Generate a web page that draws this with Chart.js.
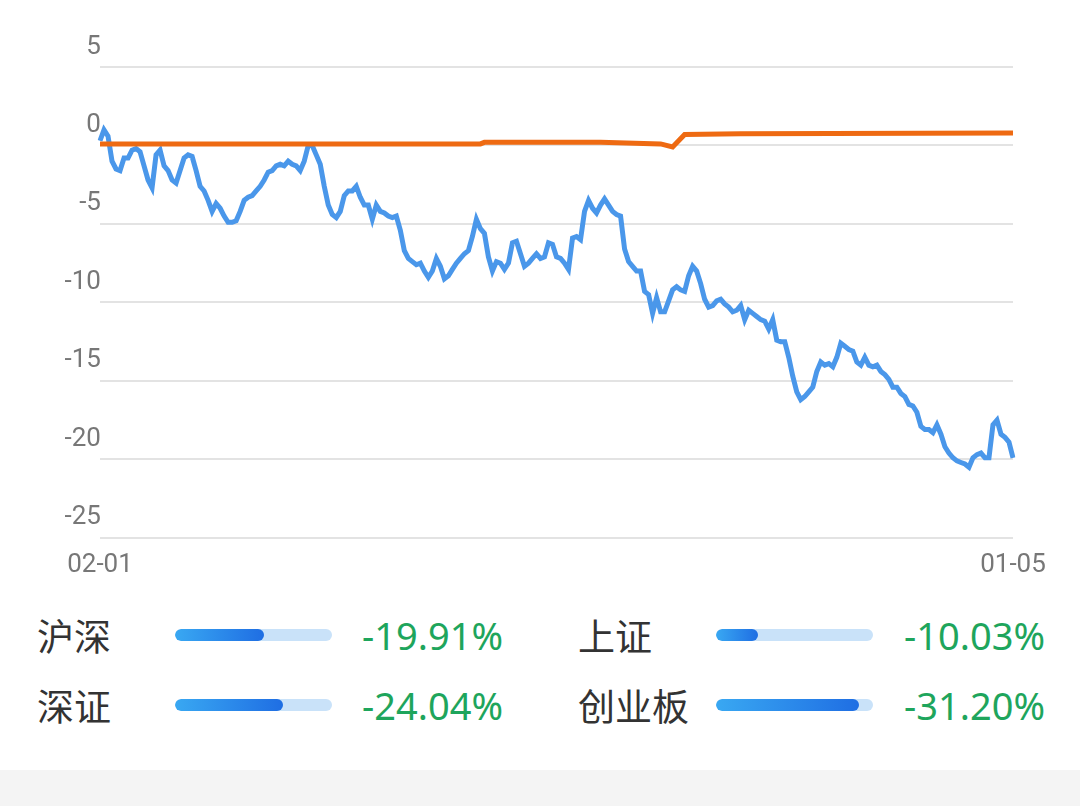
<!DOCTYPE html>
<html><head><meta charset="utf-8">
<script src="https://cdn.jsdelivr.net/npm/chart.js@4/dist/chart.umd.min.js"></script>
<style>
body{margin:0;width:1080px;height:806px;background:#fff;font-family:"Noto Sans CJK SC","Noto Sans",sans-serif;position:relative;overflow:hidden}
#c{position:absolute;left:0;top:0}
.row{position:absolute;height:50px}
.lab{position:absolute;font-size:37px;color:#333;top:50%;transform:translateY(-50%);left:0;white-space:nowrap}
.bar{position:absolute;height:12px;border-radius:6px;background:#c9e2f9;top:19px;overflow:hidden}
.bar i{display:block;height:100%;border-radius:6px;background:linear-gradient(90deg,#39a8f2,#1f6ee3)}
.val{position:absolute;font-size:38px;color:#1ea55c;top:50%;transform:translateY(-50%);right:0;white-space:nowrap;font-family:"Noto Sans",sans-serif}
#foot{position:absolute;left:0;right:0;top:770px;bottom:0;background:#f4f4f4}
</style></head><body>
<canvas id="c" width="1080" height="585"></canvas>
<div id="legend"></div>
<div id="foot"></div>
<script>
const xLabels = ["02-01", "01-05"];
const blue = [0.3,1.0,0.6,-1.0,-1.5,-1.6,-0.8,-0.8,-0.3,-0.2,-0.4,-1.3,-2.2,-2.7,-0.6,-0.3,-1.3,-1.6,-2.2,-2.4,-1.6,-0.8,-0.6,-0.7,-1.6,-2.6,-2.9,-3.5,-4.2,-3.7,-4.0,-4.5,-4.9,-4.9,-4.8,-4.2,-3.5,-3.3,-3.2,-2.9,-2.6,-2.2,-1.7,-1.6,-1.3,-1.2,-1.3,-1.0,-1.2,-1.3,
-1.6,-1.0,0,0,-0.6,-1.2,-2.6,-3.8,-4.4,-4.6,-4.2,-3.2,-2.9,-2.9,-2.6,-3.3,-3.8,-3.8,-4.7,-3.8,-4.2,-4.3,-4.5,-4.6,-4.5,-5.4,-6.7,-7.2,-7.4,-7.6,-7.5,-8.0,-8.4,-8.0,-7.2,-7.7,-8.5,-8.3,-7.9,-7.5,-7.2,-6.9,-6.7,-5.8,-4.7,-5.3,-5.6,-7.1,-8.0,-7.4,-7.5,-7.9,-7.5,-6.2,-6.1,-6.9,-7.7,-7.5,-7.2,-6.9,-7.2,-7.1,-6.2,-6.3,-7.1,-7.2,-7.5,-7.9,-5.9,-5.8,-6.0,-4.2,-3.5,-4.0,-4.3,-3.8,-3.4,-3.8,-4.2,-4.4,-4.5,-6.6,-7.4,-7.7,-8.0,-8.0,-9.3,-9.5,-10.7,-9.7,-10.6,-10.6,-9.9,-9.2,-9.0,-9.2,-9.3,-8.3,-7.7,-8.0,-8.8,-9.8,-10.3,-10.2,-9.9,-9.8,-10.1,-10.3,-10.6,-10.5,-10.2,-11.1,-10.5,-10.7,-10.9,-11.1,-11.2,-11.7,-11.1,-12.4,-12.5,-12.5,-13.5,-14.7,-15.7,-16.2,-16.0,-15.7,-15.4,-14.4,-13.8,-14.0,-13.9,-14.1,-13.5,-12.6,-12.8,-13.0,-13.1,-13.8,-14.0,-13.5,-14.0,-14.1,-14.0,-14.4,-14.6,-14.9,-15.4,-15.4,-15.8,-16.0,-16.5,-16.6,-17.0,-17.9,-18.1,-18.1,-18.3,-17.8,-18.4,-19.2,-19.6,-19.9,-20.1,-20.2,-20.3,-20.5,-19.9,-19.7,-19.6,-19.9,-19.9,-17.8,-17.5,-18.4,-18.6,-18.9,-19.9];
// orange: key points by index, gaps joined by the line
const orangeIdx = [0, 95, 96, 125, 140, 143, 146, 160, blue.length - 1];
const orangeVal = [0.1, 0.1, 0.2, 0.2, 0.1, -0.1, 0.7, 0.75, 0.8];

const names = ["沪深", "上证", "深证", "创业板"];
const changes = ["-19.91%", "-10.03%", "-24.04%", "-31.20%"];
const fills = [0.57, 0.27, 0.69, 0.91];

const orange = blue.map(() => null);
orangeIdx.forEach((i, k) => { orange[i] = orangeVal[k]; });
const labels = blue.map((_, i) => i);

new Chart(document.getElementById("c"), {
  type: "line",
  data: {
    labels: labels,
    datasets: [
      { data: orange, borderColor: "#ee6a12", borderWidth: 5, pointRadius: 0, spanGaps: true, tension: 0 },
      { data: blue, borderColor: "#4a97ea", borderWidth: 5, pointRadius: 0, tension: 0 },
    ],
  },
  options: {
    responsive: false, animation: false, devicePixelRatio: 1,
    layout: { padding: { top: 67, right: 67, left: 0, bottom: 0 } },
    plugins: { legend: { display: false }, tooltip: { enabled: false } },
    scales: {
      x: {
        grid: { display: false }, border: { display: false },
        ticks: {
          autoSkip: false, maxRotation: 0, color: "#777", font: { size: 26, family: "Roboto" }, padding: 4,
          callback: (v, i) => i === 0 ? xLabels[0] : (i === blue.length - 1 ? xLabels[1] : null),
        },
      },
      y: {
        min: -25, max: 5, afterFit: (s) => { s.width = 100; },
        grid: { color: "#e3e3e3", lineWidth: 2, drawTicks: false },
        border: { display: false },
        ticks: { stepSize: 5, color: "#777", font: { size: 26, family: "Roboto" }, padding: -20, labelOffset: -20, callback: (v) => v + "%" },
      },
    },
  },
});

const legend = document.getElementById("legend");
names.forEach((n, i) => {
  const col = i % 2, row = Math.floor(i / 2);
  const left = col ? 578 : 37, barL = 138, right = col ? 1045 : 503;
  const d = document.createElement("div");
  d.className = "row";
  d.style.left = left + "px"; d.style.width = (right - left) + "px"; d.style.top = (610 + row * 70) + "px";
  d.innerHTML = `<span class="lab">${n}</span><div class="bar" style="left:${barL}px;width:157px"><i style="width:${fills[i] * 100}%"></i></div><span class="val">${changes[i]}</span>`;
  legend.appendChild(d);
});
</script>
</body></html>
